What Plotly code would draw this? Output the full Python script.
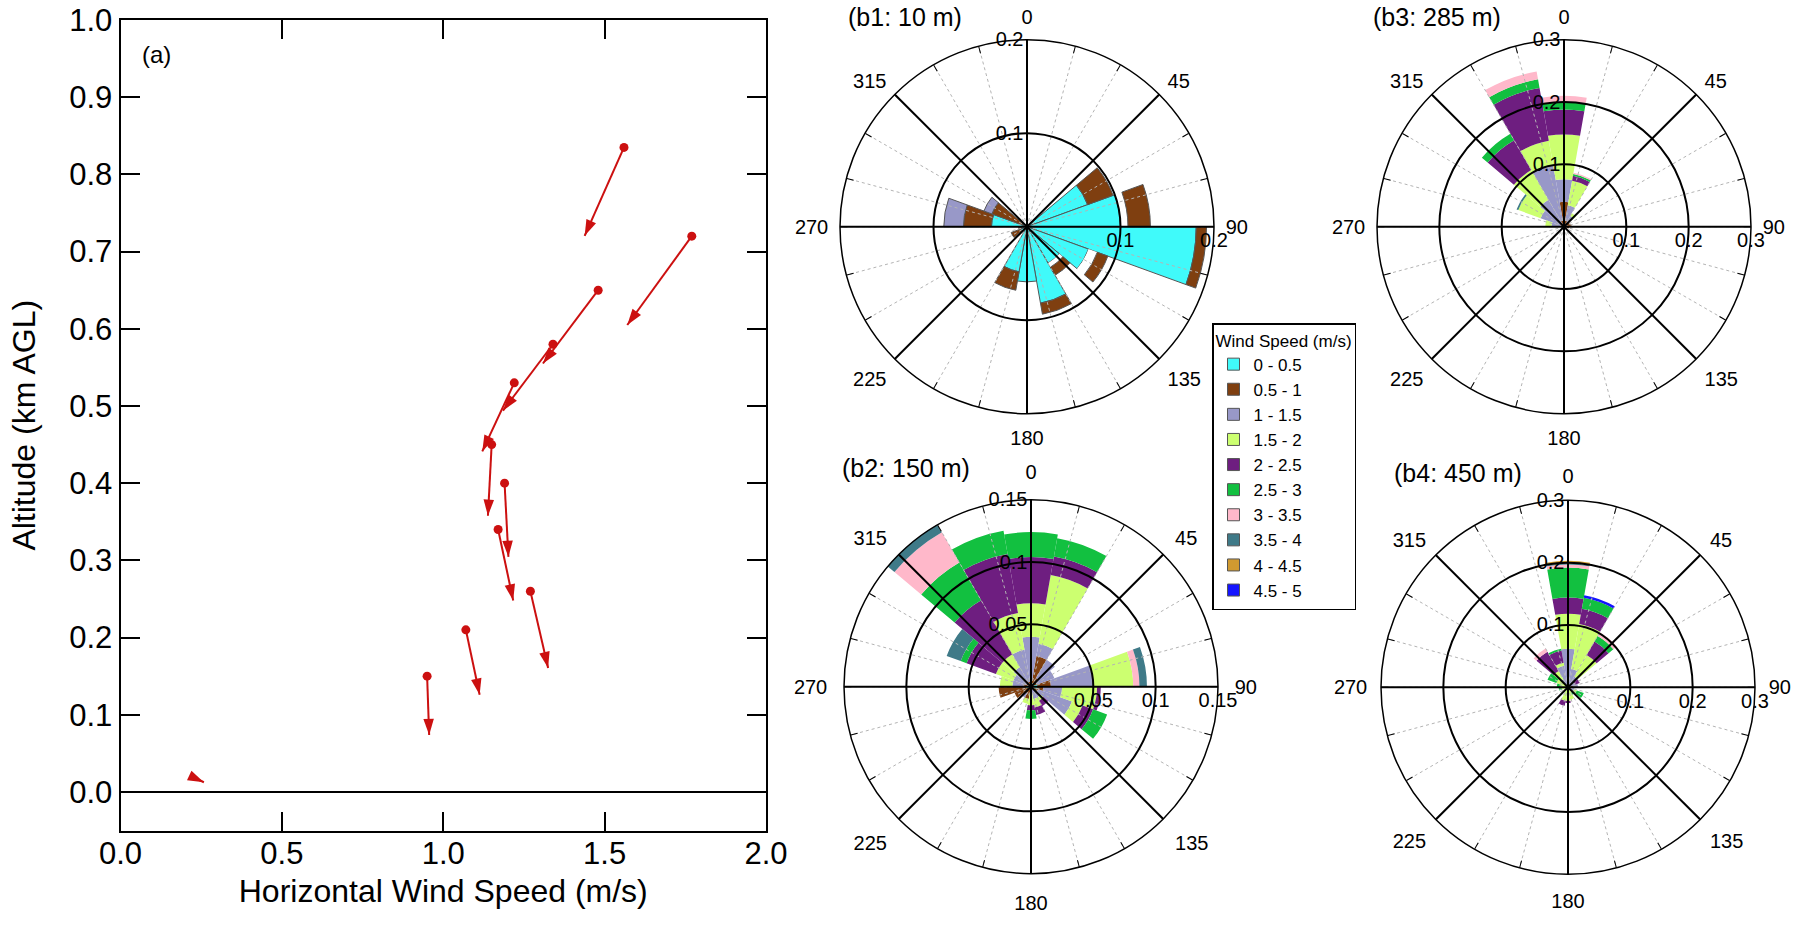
import math
import plotly.graph_objects as go

W, H = 1800, 926
FONT = "Liberation Sans, Arial, sans-serif"


def xp(X):
    return X / W


def yp(Y):
    return 1 - Y / H


# ---------------- Panel (a): wind profile ----------------
speed = [0.22, 0.95, 1.07, 1.27, 1.17, 1.19, 1.15, 1.22, 1.34, 1.48, 1.77, 1.56]
altitude = [0.02, 0.15, 0.21, 0.26, 0.34, 0.40, 0.45, 0.53, 0.58, 0.65, 0.72, 0.835]
direction = [295, 358, 348, 347, 348, 357, 3, 25, 37, 37, 36, 24]
ARROW_PX_PER_MS = 62.0

XDOM = [xp(120.5), xp(766)]
YDOM = [yp(830.5), yp(20)]
XR = [0.0, 2.0]
YR = [-0.05, 1.0001]

# ---------------- Panels (b): wind roses ----------------
BINS = ["0 - 0.5", "0.5 - 1", "1 - 1.5", "1.5 - 2", "2 - 2.5",
        "2.5 - 3", "3 - 3.5", "3.5 - 4", "4 - 4.5", "4.5 - 5"]
COLORS = ["#40FAFA", "#7F3F10", "#9898C8", "#CCFF70", "#6E1E80",
          "#12C040", "#FFB8CA", "#3F7A88", "#D09A30", "#1414FF"]
DIRS = list(range(0, 360, 20))

# frequency per speed bin, per 20-degree sector (0,20,...,340)
b1_0_05 = [0, 0, 0, .069, .100, .181, .070, .045, .083, .059, .049, .004, .007, .006, .038, .005, 0, 0]
b1_gap = [0, 0, 0, 0, .008, 0, .010, .005, 0, 0, 0, 0, 0, 0, 0, 0, 0, 0]   # blank ring seen in (b1)
b1_05_1 = [0, 0, 0, .029, .024, .011, .012, .010, .012, 0, .020, 0, .011, .003, .030, .035, 0, 0]
b1_1_15 = [0, 0, 0, 0, 0, 0, 0, 0, 0, 0, 0, 0, 0, 0, .021, .009, 0, 0]
b1_zero = [0] * 18

b2_0_05 = [.002, .003, .002, .002, .005, .005, .003, 0, 0, .002, .002, 0, .002, .004, .003, .002, .003, .002]
b2_05_1 = [.002, .022, .006, .003, .011, .005, .003, 0, 0, 0, .008, .006, .012, .022, .003, .002, .002, .002]
b2_1_15 = [.036, .010, .017, .015, .034, .015, .029, .010, .010, .003, 0, .004, 0, 0, .009, .011, .013, .026]
b2_15_2 = [.027, .056, 0, 0, .032, .028, .009, .003, .007, .010, .004, 0, 0, 0, .010, .015, .012, .030]
b2_2_25 = [.037, .015, 0, 0, 0, .003, .009, .005, .006, .004, 0, 0, 0, 0, 0, .025, .050, .048]
b2_25_3 = [.020, .015, 0, 0, 0, 0, .012, 0, 0, .007, 0, 0, 0, 0, 0, .005, .035, .019]
b2_3_35 = [0, 0, 0, 0, .005, 0, 0, 0, 0, 0, 0, 0, 0, 0, 0, 0, .028, 0]
b2_35_4 = [0, 0, 0, 0, .006, 0, 0, 0, 0, 0, 0, 0, 0, 0, 0, .012, .008, 0]

b3_05_1 = [.040, .010, .008, .010, .012, .008, .004, .004, .004, .004, .004, .004, .004, .004, .006, .006, .005, .010]
b3_1_15 = [.036, .025, .012, 0, 0, 0, 0, 0, 0, 0, 0, 0, 0, 0, .014, .034, .045, .090]
b3_15_2 = [.072, .040, .005, 0, 0, 0, 0, 0, 0, 0, 0, 0, 0, 0, .010, .038, .055, .040]
b3_2_25 = [.040, .008, 0, 0, 0, 0, 0, 0, 0, 0, 0, 0, 0, 0, 0, 0, .055, .086]
b3_25_3 = [.012, .003, 0, 0, 0, 0, 0, 0, 0, 0, 0, 0, 0, 0, 0, 0, .012, .014]
b3_3_35 = [.010, .002, 0, 0, 0, 0, 0, 0, 0, 0, 0, 0, 0, 0, 0, 0, 0, .013]
b3_35_4 = [0, 0, 0, 0, 0, 0, 0, 0, 0, 0, 0, 0, 0, 0, 0, .003, 0, 0]

b4_05_1 = [.008, .005, 0, 0, .008, .006, 0, 0, 0, 0, 0, 0, 0, 0, 0, 0, 0, 0]
b4_1_15 = [.054, .025, .020, .012, .008, .004, .010, 0, 0, 0, 0, 0, 0, 0, 0, 0, .015, .035]
b4_15_2 = [.056, .073, .040, 0, 0, 0, .005, .010, .020, .022, .022, .008, .006, .010, .012, .020, .015, .005]
b4_2_25 = [.026, .025, .025, .008, 0, 0, 0, 0, 0, .003, .008, 0, 0, 0, 0, 0, .036, .020]
b4_25_3 = [.048, .018, .010, 0, 0, 0, .012, .004, 0, 0, 0, 0, 0, .005, .006, .015, 0, .003]
b4_3_35 = [.005, 0, .007, 0, 0, 0, 0, 0, 0, 0, 0, 0, 0, 0, 0, 0, .006, 0]
b4_35_4 = [.002, 0, 0, 0, 0, 0, 0, 0, 0, 0, 0, 0, 0, 0, 0, 0, 0, 0]
b4_4_45 = [.004, 0, 0, 0, 0, 0, 0, 0, 0, 0, 0, 0, 0, 0, 0, 0, 0, 0]
b4_45_5 = [0, .004, 0, 0, 0, 0, 0, 0, 0, 0, 0, 0, 0, 0, 0, 0, 0, 0]

ROSES = [
    dict(title="(b1: 10 m)", rmax=0.2, rticks=[0.1, 0.2], rtext=["0.1", "0.2"], gap=b1_gap, alen=7,
         bins=[b1_0_05, b1_05_1, b1_1_15, b1_zero, b1_zero, b1_zero, b1_zero, b1_zero, b1_zero, b1_zero]),
    dict(title="(b2: 150 m)", rmax=0.15, rticks=[0.05, 0.1, 0.15], rtext=["0.05", "0.1", "0.15"], gap=None, alen=12,
         bins=[b2_0_05, b2_05_1, b2_1_15, b2_15_2, b2_2_25, b2_25_3, b2_3_35, b2_35_4, b1_zero, b1_zero]),
    dict(title="(b3: 285 m)", rmax=0.3, rticks=[0.1, 0.2, 0.3], rtext=["0.1", "0.2", "0.3"], gap=None, alen=7,
         bins=[b1_zero, b3_05_1, b3_1_15, b3_15_2, b3_2_25, b3_25_3, b3_3_35, b3_35_4, b1_zero, b1_zero]),
    dict(title="(b4: 450 m)", rmax=0.3, rticks=[0.1, 0.2, 0.3], rtext=["0.1", "0.2", "0.3"], gap=None, alen=9,
         bins=[b1_zero, b4_05_1, b4_1_15, b4_15_2, b4_2_25, b4_25_3, b4_3_35, b4_35_4, b4_4_45, b4_45_5]),
]

# rose centres (window px) and radius
CENTERS = [(1027, 226.7), (1031, 686.7), (1564, 226.7), (1568, 687.3)]
RAD = 187.0
TITLE_POS = [(905, 17), (906, 468), (1437, 17), (1458, 473)]

fig = go.Figure()

# ---- panel (a) ----
pxx = (XDOM[1] - XDOM[0]) * W / (XR[1] - XR[0])
pxy = (YDOM[1] - YDOM[0]) * H / (YR[1] - YR[0])
RED = "#CC1010"
lx, ly, hxs, hys, angs = [], [], [], [], []
for s, z, d in zip(speed, altitude, direction):
    L = ARROW_PX_PER_MS * s
    th = math.radians(d)
    hx = s - L * math.sin(th) / pxx
    hy = z - L * math.cos(th) / pxy
    lx += [s, hx, None]
    ly += [z, hy, None]
    hxs.append(hx)
    hys.append(hy)
    angs.append((180 + d) % 360)

fig.add_trace(go.Scatter(x=lx, y=ly, mode="lines", line=dict(color=RED, width=2),
                         showlegend=False, hoverinfo="skip"))
fig.add_trace(go.Scatter(x=hxs, y=hys, mode="markers",
                         marker=dict(symbol="arrow", size=17, angle=angs, color=RED,
                                     line=dict(width=0)),
                         showlegend=False, hoverinfo="skip"))
fig.add_trace(go.Scatter(x=speed[1:], y=altitude[1:], mode="markers",
                         marker=dict(color=RED, size=9), showlegend=False, hoverinfo="skip"))

annotations = [dict(text="(a)", x=0.03, y=0.958, xref="x domain", yref="y domain",
                    xanchor="left", yanchor="middle", showarrow=False,
                    font=dict(size=24, family=FONT, color="black"))]

fig.update_xaxes(domain=XDOM, range=XR, dtick=0.5, tick0=0, tickformat=".1f", automargin=False,
                 ticks="inside", ticklen=19, tickwidth=2, tickcolor="black", ticklabelstandoff=-6,
                 showline=True, linecolor="black", linewidth=2, mirror="ticks",
                 showgrid=False, zeroline=False,
                 tickfont=dict(size=31, family=FONT, color="black"),
                 title=dict(text="Horizontal Wind Speed (m/s)", standoff=10,
                            font=dict(size=32, family=FONT, color="black")))
fig.update_yaxes(domain=YDOM, range=YR, dtick=0.1, tick0=0, tickformat=".1f", automargin=False,
                 ticks="inside", ticklen=19, tickwidth=2, tickcolor="black",
                 showline=True, linecolor="black", linewidth=2, mirror="ticks",
                 showgrid=False, zeroline=True, zerolinecolor="black", zerolinewidth=1.5,
                 tickfont=dict(size=31, family=FONT, color="black"),
                 title=dict(text="Altitude (km AGL)", standoff=24,
                            font=dict(size=32, family=FONT, color="black")))

# ---- roses ----
layout_polars = {}
ANG_VALS = [0, 45, 90, 135, 180, 225, 270, 315]
for i, rose in enumerate(ROSES):
    cx, cy = CENTERS[i]
    dom = dict(x=[xp(cx - RAD), xp(cx + RAD)], y=[yp(cy + RAD), yp(cy - RAD)])
    base = "polar" if i == 0 else f"polar{i + 1}"
    dot = f"polar{i + 5}"
    sol = f"polar{i + 9}"
    for j, vals in enumerate(rose["bins"]):
        fig.add_trace(go.Barpolar(r=vals, theta=DIRS, width=[20] * 18, name=BINS[j],
                                  legendgroup=BINS[j], showlegend=(i == 0),
                                  marker=dict(color=COLORS[j],
                                              line=dict(width=1 if i == 0 else 0,
                                                        color="#555555" if i == 0 else COLORS[j])),
                                  subplot=base, hoverinfo="skip"))
        if j == 0 and rose["gap"] is not None:
            fig.add_trace(go.Barpolar(r=rose["gap"], theta=DIRS, width=[20] * 18,
                                      marker=dict(color="white", line=dict(width=0)),
                                      showlegend=False, subplot=base, hoverinfo="skip"))
    for sp in (dot, sol):
        fig.add_trace(go.Scatterpolar(r=[0], theta=[0], mode="markers",
                                      marker=dict(size=1, opacity=0), showlegend=False,
                                      hoverinfo="skip", subplot=sp))
    tf = dict(size=20, family=FONT, color="black")
    layout_polars[base] = dict(
        domain=dom, bgcolor="white", barmode="stack",
        angularaxis=dict(rotation=90, direction="clockwise", showgrid=False, showline=False,
                         showticklabels=False, ticks=""),
        radialaxis=dict(range=[0, rose["rmax"]], showgrid=False, showline=False,
                        showticklabels=False, ticks=""))
    layout_polars[dot] = dict(
        domain=dom, bgcolor="rgba(0,0,0,0)",
        angularaxis=dict(rotation=90, direction="clockwise", tickmode="linear", tick0=0, dtick=15,
                         showgrid=True, gridcolor="#B4B4B4", griddash="dot", gridwidth=1.2,
                         showline=False, ticks="inside", ticklen=7, tickwidth=1.2,
                         tickcolor="black", showticklabels=False),
        radialaxis=dict(range=[0, rose["rmax"]], showgrid=False, showline=False, ticks="",
                        angle=0, side="clockwise", tickangle=0,
                        tickvals=rose["rticks"], ticktext=rose["rtext"], tickfont=tf))
    layout_polars[sol] = dict(
        domain=dom, bgcolor="rgba(0,0,0,0)",
        angularaxis=dict(rotation=90, direction="clockwise", tickvals=ANG_VALS,
                         ticktext=[str(v) for v in ANG_VALS],
                         showgrid=True, gridcolor="black", gridwidth=1.5,
                         showline=True, linecolor="black", linewidth=1.5,
                         ticks="outside", ticklen=rose["alen"], tickcolor="rgba(0,0,0,0)", tickfont=tf),
        radialaxis=dict(range=[0, rose["rmax"]], showgrid=True, gridcolor="black", gridwidth=1.5,
                        showline=False, ticks="", angle=90, side="counterclockwise", tickangle=90,
                        tickvals=rose["rticks"], ticktext=rose["rtext"], tickfont=tf))
    tx, ty = TITLE_POS[i]
    annotations.append(dict(text=rose["title"], x=xp(tx), y=yp(ty), xref="paper", yref="paper",
                            xanchor="center", yanchor="middle", showarrow=False,
                            font=dict(size=25, family=FONT, color="black")))

fig.update_layout(**layout_polars)
fig.update_layout(
    width=W, height=H, margin=dict(l=0, r=0, t=0, b=0, autoexpand=False),
    paper_bgcolor="white", plot_bgcolor="white",
    font=dict(family=FONT, color="black"),
    annotations=annotations,
    legend=dict(x=xp(1212), y=yp(323), xanchor="left", yanchor="top",
                bgcolor="white", bordercolor="black", borderwidth=1.5,
                title=dict(text="Wind Speed (m/s)", font=dict(size=17, family=FONT)),
                font=dict(size=17, family=FONT, color="black"), tracegroupgap=0,
                itemclick=False, itemdoubleclick=False),
)

# remove the default 8px page margin so the figure fills the window exactly
fig.write_html("out.html", config={"displayModeBar": False},
               post_script="document.body.style.margin='0px';document.body.style.overflow='hidden';")
